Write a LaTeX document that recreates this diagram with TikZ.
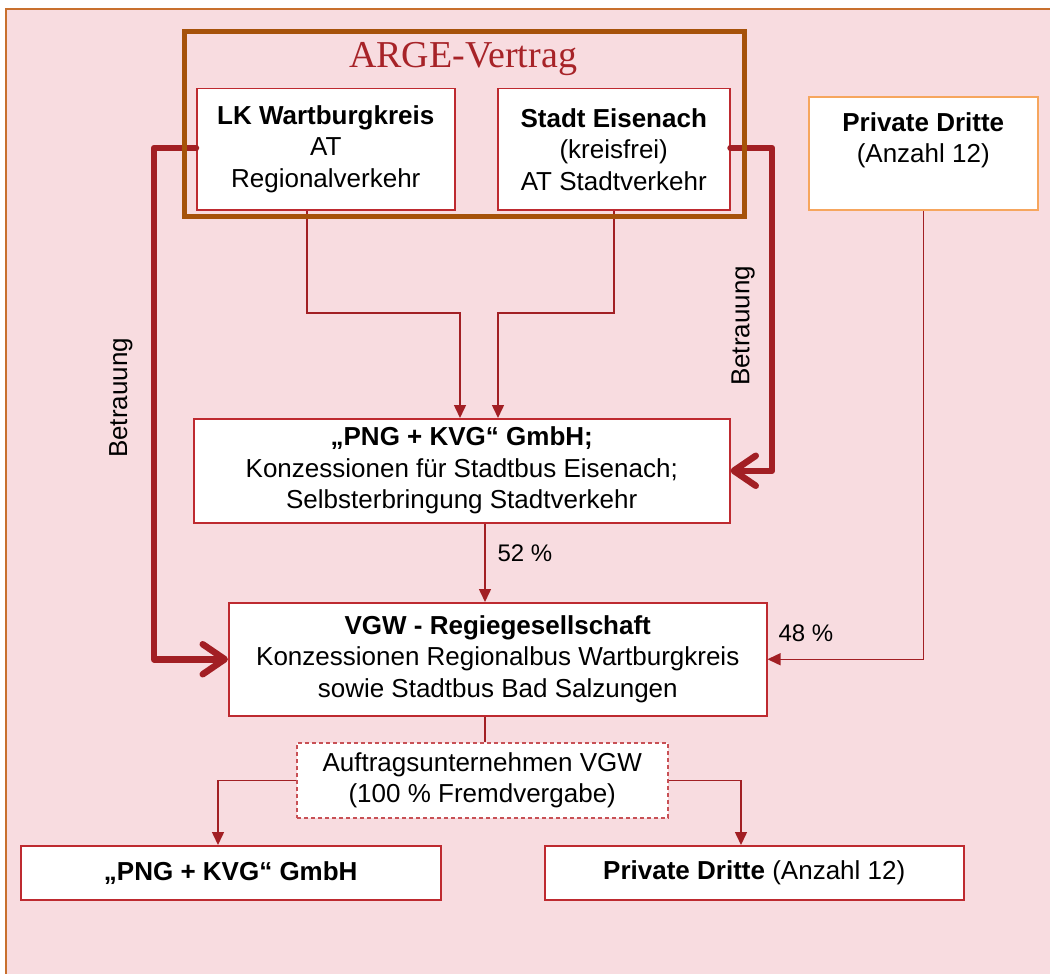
\documentclass[tikz,border=0pt]{standalone}
\usepackage{fontspec}
\setmainfont{Liberation Sans}
\newfontfamily\argefont{Liberation Serif}
\usetikzlibrary{arrows.meta,calc}
\definecolor{bgpink}{RGB}{248,220,224}
\definecolor{pageline}{RGB}{200,112,46}
\definecolor{argebrown}{RGB}{166,82,10}
\definecolor{darkred}{RGB}{162,31,36}
\definecolor{boxred}{RGB}{190,42,48}
\definecolor{dashred}{RGB}{200,80,85}
\definecolor{orangebox}{RGB}{246,166,94}
\definecolor{argetext}{RGB}{167,35,40}
\newcommand\bodysize{\fontsize{26}{31.5}\selectfont}
\tikzset{
  box/.style={draw=boxred, line width=1.5pt, fill=white, anchor=north west, inner sep=0pt, align=center, font=\bodysize},
  orangeframe/.style={box, draw=orangebox},
  dashbox/.style={box, draw=dashred, dashed, dash pattern=on 4pt off 3pt},
  conn/.style={draw=darkred, line width=1.5pt, -{Triangle[length=13pt,width=12pt]}},
  plainline/.style={draw=darkred, line width=1.5pt},
  bigarrow/.style={draw=darkred, line width=6.5pt, line join=round, line cap=round,
    -{Straight Barb[length=22pt,width=30pt,line cap=round,line join=round]}},
  pctlabel/.style={font=\fontsize{24}{28}\selectfont, inner sep=0pt},
  rotlabel/.style={font=\fontsize{26}{30}\selectfont, rotate=90, inner sep=0pt}
}
\begin{document}
\begin{tikzpicture}[x=1pt,y=-1pt]
\useasboundingbox (0,0) rectangle (1050,974);
\fill[white] (0,0) rectangle (1050,974);
\fill[bgpink] (6,9) rectangle (1050,974);
\draw[pageline, line width=1.5pt] (6,974) -- (6,9) -- (1050,9);

% ARGE frame placeholder (drawn later on top)
\node[anchor=north west, minimum width=560, minimum height=184, inner sep=0pt] (arge) at (184,32) {};
\node[font=\argefont\fontsize{38}{42}\selectfont, text=argetext, inner sep=0pt] (argetitle) at (463,59) {ARGE-Vertrag};

% boxes
\node[box, minimum width=258, minimum height=121] (lk) at (196,88) {\textbf{LK Wartburgkreis}\\AT\\Regionalverkehr};
\node[box, minimum width=232, minimum height=121] (stadt) at (497,88) {\textbf{Stadt Eisenach}\\(kreisfrei)\\AT Stadtverkehr};
\node[orangeframe, minimum width=229, minimum height=113] (pd) at (808,96) {\textbf{Private Dritte}\\(Anzahl 12)\\\mbox{}};
\node[box, minimum width=536, minimum height=104] (png) at (193,418) {\textbf{„PNG + KVG“ GmbH;}\\Konzessionen für Stadtbus Eisenach;\\Selbsterbringung Stadtverkehr};
\node[box, minimum width=538, minimum height=113] (vgw) at (228,602) {\textbf{VGW - Regiegesellschaft}\\Konzessionen Regionalbus Wartburgkreis\\sowie Stadtbus Bad Salzungen};
\node[dashbox, minimum width=371, minimum height=75] (dash) at (296,742) {Auftragsunternehmen VGW\\(100 \% Fremdvergabe)};
\node[box, minimum width=420, minimum height=54] (bl) at (20,845) {\textbf{„PNG + KVG“ GmbH}};
\node[box, minimum width=419, minimum height=54] (br) at (544,845) {\textbf{Private Dritte} (Anzahl 12)};

% helper coordinates
\coordinate (lkout) at ($(lk.south west)+(111,0)$);
\coordinate (stout) at (stadt.south);
\coordinate (pngin1) at ($(png.north west)+(267,0)$);
\coordinate (pngin2) at ($(png.north west)+(305,0)$);
\coordinate (midy) at (0,313);
\coordinate (pngout) at ($(png.south west)+(292,0)$);
\coordinate (vgwout) at ($(vgw.south west)+(257,0)$);
\coordinate (blin) at ($(bl.north west)+(198,0)$);
\coordinate (brin) at ($(br.north west)+(197,0)$);
\coordinate (lbend) at (154,148);
\coordinate (rbend) at (772,148);

% thin connectors
\draw[conn] (lkout) -- (lkout |- midy) -| (pngin1);
\draw[conn] (stout) -- (stout |- midy) -| (pngin2);
\draw[conn] (pngout) -- (pngout |- vgw.north);
\node[pctlabel] (p52) at (525,553) {52 \%};
\draw[conn] (pd.south) |- (vgw.east);
\node[pctlabel] (p48) at (806,633) {48 \%};
\draw[plainline] (vgwout) -- (vgwout |- dash.north);
\draw[conn] (dash.west) -| (blin);
\draw[conn] (dash.east) -| (brin);

% thick Betrauung arrows
\draw[bigarrow] (lk.west |- lbend) -- (lbend) |- (vgw.west);
\draw[bigarrow] (stadt.east |- rbend) -- (rbend) |- (png.east);
\node[rotlabel] (bl1) at (121,398) {Betrauung};
\node[rotlabel] (bl2) at (743,326) {Betrauung};

% ARGE frame on top
\draw[argebrown, line width=5pt] (arge.north west) rectangle (arge.south east);
\end{tikzpicture}
\end{document}
